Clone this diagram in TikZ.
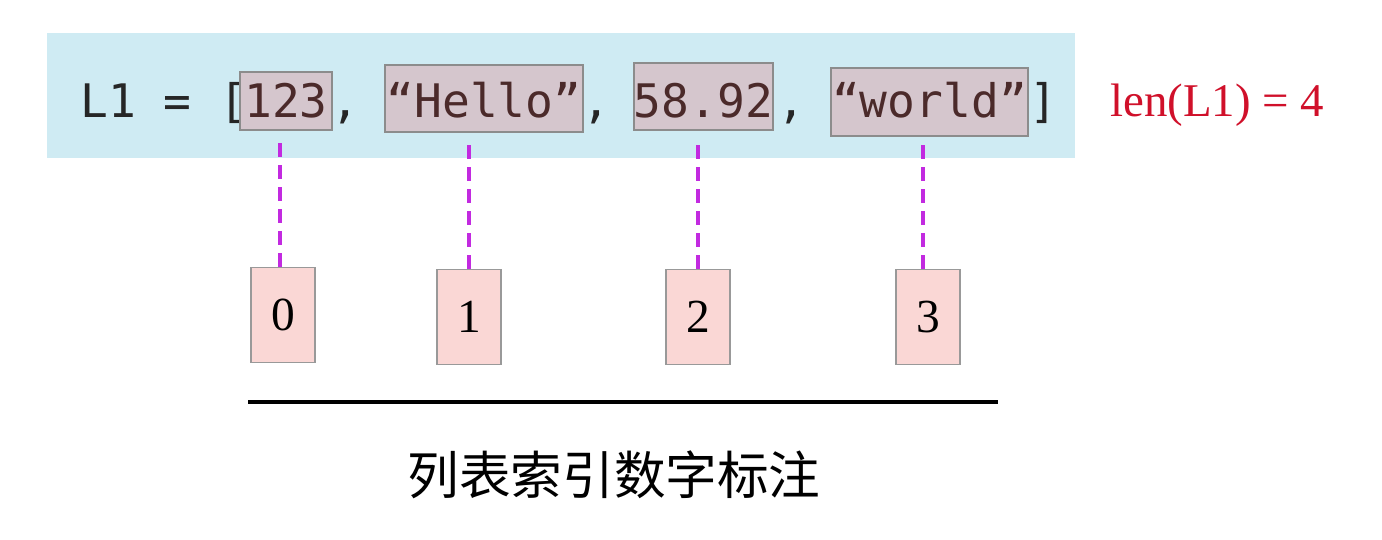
\documentclass[tikz,border=0pt]{standalone}
\usepackage{fontspec}
\setmainfont{Liberation Serif}
\setmonofont{DejaVu Sans Mono}
\newfontfamily\cjk{Noto Sans CJK SC}

\definecolor{codebg}{HTML}{CFEBF3}
\definecolor{elemfill}{HTML}{D5C6CD}
\definecolor{elemtext}{HTML}{4B2A2A}
\definecolor{idxfill}{HTML}{FAD7D5}
\definecolor{dashpurple}{HTML}{C22AE0}
\definecolor{lenred}{HTML}{D0102A}

\tikzset{
  codetext/.style={anchor=base, inner sep=0pt, text=black!85, font=\ttfamily\fontsize{26.3}{30}\selectfont},
  elembox/.style={anchor=base, draw=black!45, line width=1.1pt, fill=elemfill, inner xsep=0pt, inner ysep=0pt,
    text=elemtext, font=\ttfamily\fontsize{26.3}{30}\selectfont},
  idxbox/.style={draw=black!40, line width=1.1pt, fill=idxfill, minimum width=1.28cm, minimum height=1.9cm,
    inner sep=0pt, font=\fontsize{27}{30}\selectfont},
  idxline/.style={dashpurple, line width=2.3pt, dash pattern=on 0.28cm off 0.16cm, shorten >=0.16cm}
}

\begin{document}
\begin{tikzpicture}[x=0.02cm, y=-0.02cm]
  \useasboundingbox (0,0) rectangle (1382,540);
  \fill[codebg] (47,33) rectangle (1075,158);

  % the list line
  \node[codetext, anchor=base west] (lhs) at (80,118) {L1 = [};
  \node[elembox, minimum width=1.84cm, text height=0.92cm, text depth=0.24cm] (e0) at (286,118) {123};
  \node[codetext] (c0) at (345,118) {,};
  \node[elembox, minimum width=3.96cm, text height=1.06cm, text depth=0.28cm] (e1) at (484,118) {“Hello”};
  \node[codetext] (c1) at (596,118) {,};
  \node[elembox, minimum width=2.78cm, text height=1.10cm, text depth=0.24cm] (e2) at (703.5,118) {58.92};
  \node[codetext] (c2) at (791,118) {,};
  \node[elembox, minimum width=3.94cm, text height=1.00cm, text depth=0.36cm] (e3) at (929.5,118) {“world”};
  \node[codetext] (rb) at (1043,118) {]};

  \node[anchor=base west, inner sep=0pt, text=lenred, font=\fontsize{26.7}{30}\selectfont] (len) at (1110,117) {len(L1) = 4};

  % index boxes
  \node[idxbox] (i0) at (283,315) {0};
  \node[idxbox] (i1) at (469,317) {1};
  \node[idxbox] (i2) at (698,317) {2};
  \node[idxbox] (i3) at (928,317) {3};

  \draw[idxline] ([xshift=-0.06cm]i0.north) -- ([xshift=-0.06cm]i0.north |- e0.south);
  \draw[idxline] (i1.north) -- (i1.north |- e1.south);
  \draw[idxline] (i2.north) -- (i2.north |- e2.south);
  \draw[idxline] ([xshift=-0.1cm]i3.north) -- ([xshift=-0.1cm]i3.north |- e3.south);

  % rule and caption
  \coordinate (ruleL) at (248,402);
  \coordinate (ruleR) at (998,402);
  \draw[line width=2.3pt] (ruleL) -- (ruleR);
  \node[font=\cjk\fontsize{29.4}{34}\selectfont] (caption) at (614,475) {列表索引数字标注};
\end{tikzpicture}
\end{document}
